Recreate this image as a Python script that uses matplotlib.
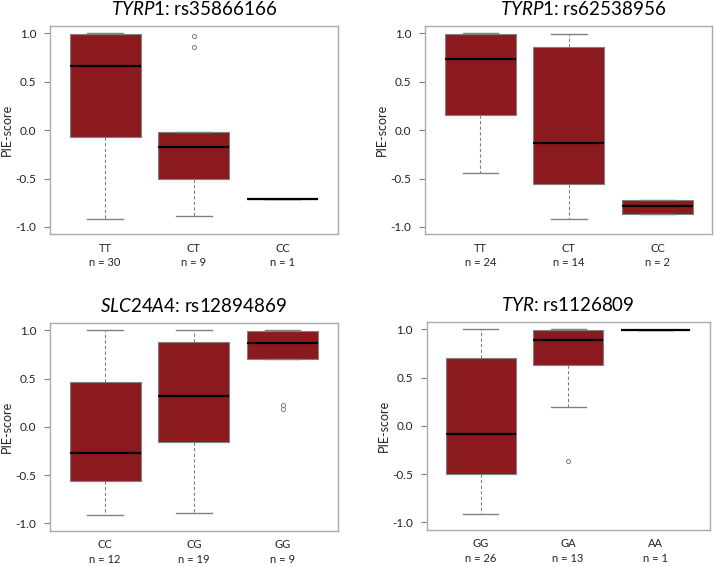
import matplotlib
matplotlib.use("Agg")
import matplotlib.pyplot as plt

plt.rcParams['font.family'] = ['Lato', 'DejaVu Sans']
plt.rcParams['mathtext.fontset'] = 'custom'
plt.rcParams['mathtext.it'] = 'Lato:italic'
plt.rcParams['mathtext.rm'] = 'Lato'

# titel, genotyper, n, boksverdier (whislo, q1, med, q3, whishi), uteliggere
gener = ['TYRP1', 'TYRP1', 'SLC24A4', 'TYR']
snp = ['rs35866166', 'rs62538956', 'rs12894869', 'rs1126809']
genotyper = [['TT', 'CT', 'CC'], ['TT', 'CT', 'CC'],
             ['CC', 'CG', 'GG'], ['GG', 'GA', 'AA']]
antall = [[30, 9, 1], [24, 14, 2], [12, 19, 9], [26, 13, 1]]

whislo = [[-0.914, -0.886, -0.714], [-0.446, -0.92, -0.862],
          [-0.91, -0.889, 0.709], [-0.91, 0.191, 0.99]]
q1 = [[-0.069, -0.50, -0.714], [0.152, -0.557, -0.862],
      [-0.564, -0.152, 0.709], [-0.50, 0.635, 0.99]]
median = [[0.666, -0.17, -0.714], [0.74, -0.138, -0.789],
          [-0.266, 0.322, 0.869], [-0.083, 0.889, 0.99]]
q3 = [[0.99, -0.02, -0.714], [0.99, 0.86, -0.723],
      [0.464, 0.879, 0.993], [0.705, 0.99, 0.99]]
whishi = [[1.0, -0.02, -0.714], [1.0, 0.99, -0.723],
          [1.0, 1.0, 1.0], [1.0, 1.0, 0.99]]
uteliggere = [[[], [0.976, 0.862], []], [[], [], []],
              [[], [], [0.225, 0.19]], [[], [-0.361], []]]

y_ticks = [-1.0, -0.5, 0.0, 0.5, 1.0]
y_tekst = ['-1.0', '-0.5', '0.0', '0.5', '1.0']

boksfarge = '#8B1A1F'
graa = '#808080'

posisjoner = [[0.0698, 0.587, 0.402, 0.367], [0.594, 0.587, 0.401, 0.367],
              [0.0698, 0.064, 0.402, 0.366], [0.596, 0.066, 0.395, 0.366]]
tittel_x = [0.5, 0.55, 0.5, 0.5]

fig = plt.figure(figsize=(7.16, 5.67), dpi=100)

for i in range(4):
    ax = fig.add_axes(posisjoner[i])
    stats = []
    for j in range(3):
        stats.append({'whislo': whislo[i][j], 'q1': q1[i][j], 'med': median[i][j],
                      'q3': q3[i][j], 'whishi': whishi[i][j],
                      'fliers': uteliggere[i][j]})
    ax.bxp(stats, positions=[1, 2, 3], widths=0.8, capwidths=0.4,
           patch_artist=True,
           boxprops=dict(facecolor=boksfarge, edgecolor=graa, linewidth=0.8),
           medianprops=dict(color='black', linewidth=1.6),
           whiskerprops=dict(color=graa, linestyle=(0, (3, 2)), linewidth=0.8),
           capprops=dict(color=graa, linewidth=1.0),
           flierprops=dict(marker='o', markersize=3, markerfacecolor='none',
                           markeredgecolor=graa, markeredgewidth=0.7))
    ax.set_xlim(0.38, 3.62)
    ax.set_ylim(-1.075, 1.075)
    ax.set_yticks(y_ticks)
    ax.set_yticklabels(y_tekst)
    ax.set_xticks([1, 2, 3])
    ax.set_xticklabels([g + '\nn = ' + str(n) for g, n in zip(genotyper[i], antall[i])],
                       linespacing=1.4)
    ax.tick_params(axis='x', length=0, pad=6, labelsize=8, colors='#222222')
    ax.tick_params(axis='y', length=4, width=0.8, color=graa, pad=6,
                   labelsize=8.5, labelcolor='#222222')
    for s in ax.spines.values():
        s.set_color('#aaaaaa')
        s.set_linewidth(1.0)
    ax.set_ylabel('PIE-score', fontsize=9, color='#222222')
    ax.yaxis.set_label_coords(-0.13, 0.5)
    ax.set_title(r'$\mathit{' + gener[i] + '}$: ' + snp[i], fontsize=13.5,
                 x=tittel_x[i], pad=8)

plt.savefig('out.png', dpi=100)
